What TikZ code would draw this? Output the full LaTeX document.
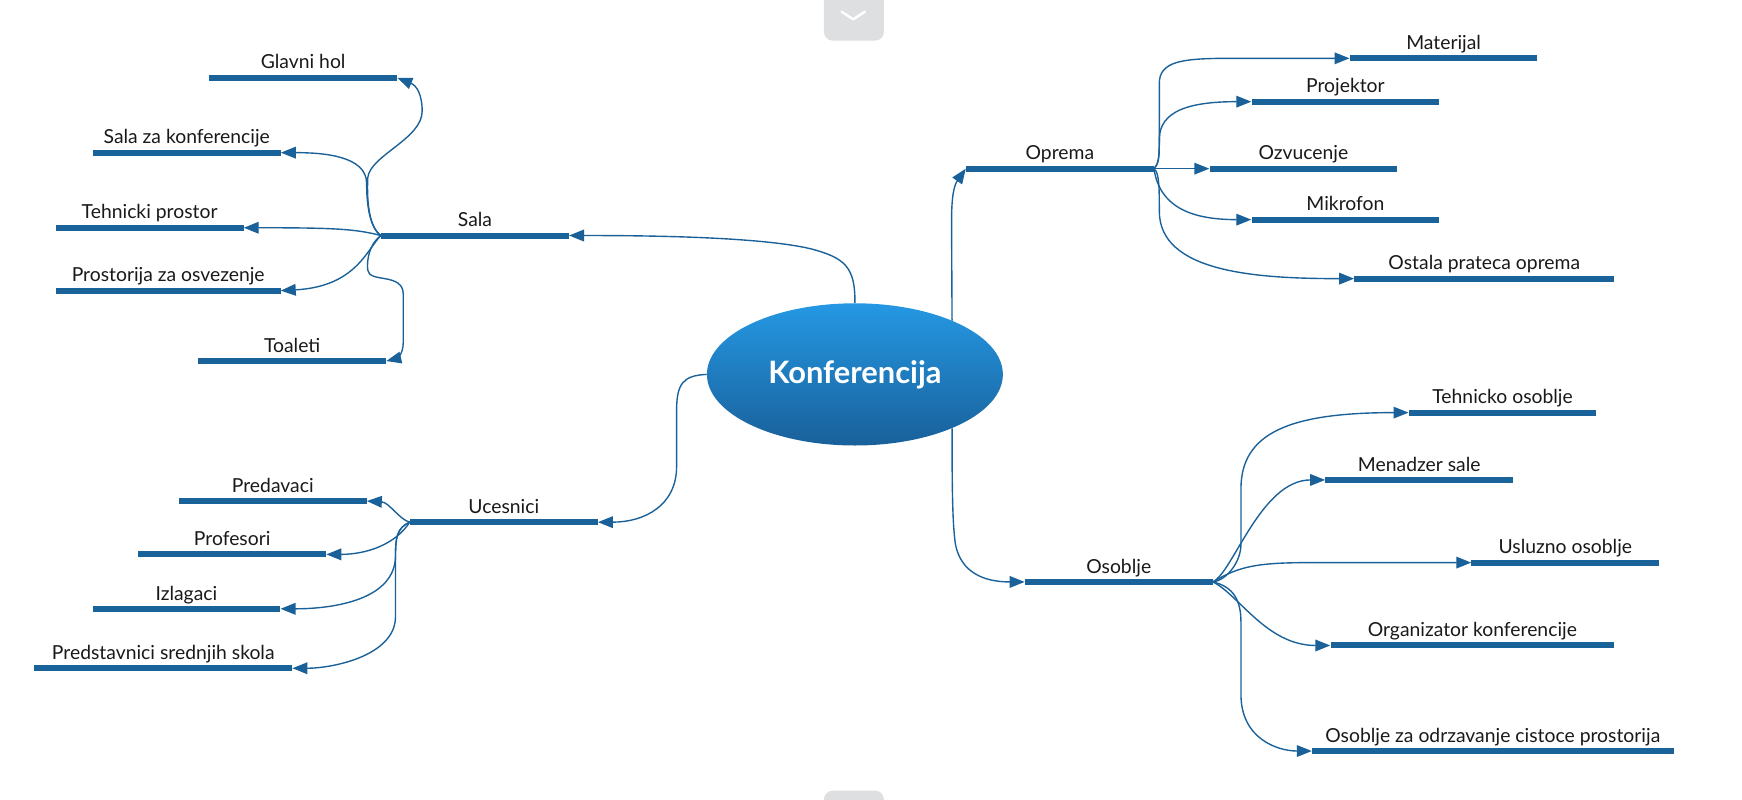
\documentclass[tikz,border=0pt]{standalone}
\usepackage{fontspec}
\setmainfont{Lato}
\usetikzlibrary{arrows.meta,shapes.geometric}
\definecolor{barblue}{HTML}{19639A}
\definecolor{linkblue}{HTML}{1B6199}
\definecolor{elltop}{HTML}{2598E3}
\definecolor{ellbot}{HTML}{19609A}
\definecolor{btngray}{HTML}{DEDFE1}
\begin{document}
\begin{tikzpicture}[x=1pt,y=-1pt,
 bar/.style={fill=barblue, inner sep=0pt, minimum height=5.4pt, minimum width=169pt},
 lbl/.style={font=\fontsize{17.4}{19}\selectfont, text=black!90, inner sep=0pt, text depth=0pt},
 every label/.style={lbl}, label distance=4.8pt,
 link/.style={draw=linkblue, line width=1.25pt, -{Triangle[length=13.5pt,width=10.5pt]}},
 btn/.style={fill=btngray, rounded corners=8pt},
 chev/.style={draw=white, line width=2.2pt, line cap=round, line join=round}]
\useasboundingbox (0,0) rectangle (1568,720);

% UI buttons
\fill[btn] (741.6,-10) rectangle (795.6,36.6);
\draw[chev] (757.5,10.5) -- (768,17.4) -- (778.5,10.5);
\fill[btn] (741.6,711.6) rectangle (795.6,740);

% central node
\node[ellipse, minimum width=266.4pt, minimum height=128pt, inner sep=0pt,
      top color=elltop, bottom color=ellbot, text=white,
      font=\fontsize{27.8}{32}\selectfont\bfseries] (konf) at (769.5,337) {Konferencija};

% Sala branch
\node[bar, label=above:Sala] (sala) at (427.5,212) {};
\node[bar, label=above:Glavni hol] (glavni) at (272.9,70) {};
\node[bar, label=above:Sala za konferencije] (salakonf) at (168.1,137.4) {};
\node[bar, label=above:Tehnicki prostor] (tehnicki) at (134.7,205) {};
\node[bar, minimum width=202.2pt, label=above:Prostorija za osvezenje] (prostorija) at (151.4,261.6) {};
\node[bar, label=above:Toaleti] (toaleti) at (263,325) {};

% Ucesnici branch
\node[bar, label=above:Ucesnici] (ucesnici) at (453.5,470) {};
\node[bar, label=above:Predavaci] (predavaci) at (245.5,451) {};
\node[bar, label=above:Profesori] (profesori) at (209,499) {};
\node[bar, label=above:Izlagaci] (izlagaci) at (167.8,548) {};
\node[bar, minimum width=232pt, label=above:Predstavnici srednjih skola] (predstavnici) at (147,601.5) {};

% Oprema branch
\node[bar, label=above:Oprema] (oprema) at (954,151.8) {};
\node[bar, label=above:Materijal] (materijal) at (1299.4,52.5) {};
\node[bar, label=above:Projektor] (projektor) at (1211,91.5) {};
\node[bar, label=above:Ozvucenje] (ozvucenje) at (1173.2,151.8) {};
\node[bar, label=above:Mikrofon] (mikrofon) at (1211,197.7) {};
\node[bar, minimum width=234pt, label=above:Ostala prateca oprema] (ostala) at (1336,250.8) {};

% Osoblje branch
\node[bar, label=above:Osoblje] (osoblje) at (1007,523.8) {};
\node[bar, label=above:Tehnicko osoblje] (tehnicko) at (1352.5,371.4) {};
\node[bar, label=above:Menadzer sale] (menadzer) at (1277.5,432) {};
\node[bar, label=above:Usluzno osoblje] (usluzno) at (1409,506.4) {};
\node[bar, minimum width=255.4pt, label=above:Organizator konferencije] (organizator) at (1325.3,581) {};
\node[bar, minimum width=325.4pt, label=above:Osoblje za odrzavanje cistoce prostorija] (odrzavanje) at (1343.7,676) {};

% main links
\draw[link] (konf.north) .. controls (770,240) and (760,232) .. (730,224) .. controls (680,212) and (560,212) .. (sala.east);
\draw[link] (konf.west) .. controls (615,338) and (609,345) .. (609,370) -- (609,420) .. controls (609,455) and (580,470) .. (ucesnici.east);
\draw[link] (konf.29) -- (856.5,200) .. controls (856.5,180) and (858,168) .. (oprema.west);
\draw[link] (konf.-29) .. controls (857,430) and (857,470) .. (860,490) .. controls (865,515) and (885,523.8) .. (osoblje.west);

% Sala children
\draw[link] (sala.west) .. controls (333,205) and (330,185) .. (331,160) .. controls (333,140) and (380,125) .. (380,100) .. controls (380,85) and (375,77) .. (glavni.east);
\draw[link] (sala.west) .. controls (333,205) and (330,185) .. (330,165) .. controls (330,140) and (290,137.4) .. (salakonf.east);
\draw[link] (sala.west) .. controls (320,206) and (300,205) .. (tehnicki.east);
\draw[link] (sala.west) .. controls (330,225) and (320,258) .. (prostorija.east);
\draw[link] (sala.west) .. controls (332,220) and (330,235) .. (331,243) .. controls (332,255) and (363,245) .. (363,265) -- (363,308) .. controls (363,320) and (356,323) .. (toaleti.east);

% Ucesnici children
\draw[link] (ucesnici.west) .. controls (360,468) and (350,452) .. (predavaci.east);
\draw[link] (ucesnici.west) .. controls (356,490) and (330,499) .. (profesori.east);
\draw[link] (ucesnici.west) .. controls (357,475) and (356,485) .. (356,500) .. controls (356,540) and (300,548) .. (izlagaci.east);
\draw[link] (ucesnici.west) .. controls (357,475) and (356,485) .. (356,500) -- (356,555) .. controls (356,590) and (300,601.5) .. (predstavnici.east);

% Oprema children
\draw[link] (oprema.east) .. controls (1043,148) and (1043.5,140) .. (1043.5,130) -- (1043.5,75) .. controls (1043.5,55) and (1065,53) .. (1100,52.5) -- (materijal.west);
\draw[link] (oprema.east) .. controls (1043,148) and (1043.5,140) .. (1043.5,125) .. controls (1044,100) and (1070,91.5) .. (projektor.west);
\draw[link] (oprema.east) -- (ozvucenje.west);
\draw[link] (oprema.east) .. controls (1043.5,185) and (1070,197.7) .. (mikrofon.west);
\draw[link] (oprema.east) .. controls (1043.5,155) and (1043.5,170) .. (1043.5,190) .. controls (1043.5,245) and (1130,250.8) .. (ostala.west);

% Osoblje children
\draw[link] (osoblje.east) .. controls (1105,522) and (1117,505) .. (1117,490) -- (1117,440) .. controls (1117,390) and (1160,371.4) .. (tehnicko.west);
\draw[link] (osoblje.east) .. controls (1110,515) and (1135,432) .. (menadzer.west);
\draw[link] (osoblje.east) .. controls (1115,510) and (1130,506.4) .. (1180,506.4) -- (usluzno.west);
\draw[link] (osoblje.east) .. controls (1115,535) and (1140,581) .. (organizator.west);
\draw[link] (osoblje.east) .. controls (1110,528) and (1117,540) .. (1117,560) -- (1117,625) .. controls (1117,665) and (1150,676) .. (odrzavanje.west);
\end{tikzpicture}
\end{document}
